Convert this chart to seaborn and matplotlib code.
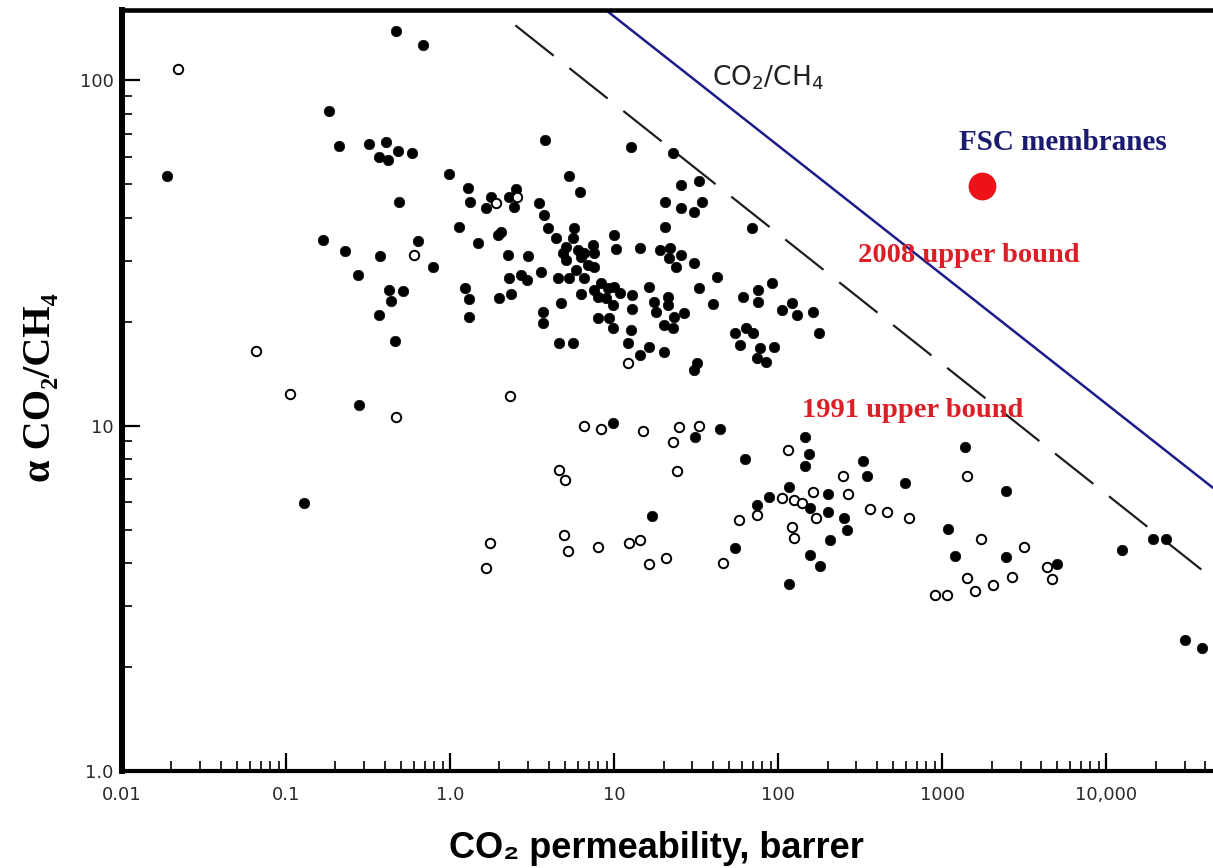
import numpy as np
import pandas as pd
import matplotlib
matplotlib.use("Agg")
import matplotlib.pyplot as plt
import seaborn as sns
from matplotlib.ticker import LogLocator, NullFormatter, FixedLocator, FixedFormatter

# ---------------- data ----------------
filled_P = [0.467, 0.681, 0.0188, 0.182, 0.210, 0.319, 0.405, 0.367, 0.417, 0.480,
            0.583, 0.486, 0.98, 1.28, 1.33, 1.13, 1.47, 0.167, 0.228, 0.372,
            0.635, 0.783, 0.274, 0.423, 0.514, 0.435, 0.367, 1.24, 1.30, 1.30,
            0.460, 0.277, 0.128, 3.77, 12.6, 22.7, 5.27, 6.15, 1.77, 1.65,
            2.28, 2.51, 2.44, 3.47, 3.72, 1.95, 2.03, 3.93, 5.66, 4.40,
            5.58, 9.91, 10.2, 14.3, 18.9, 22.0, 21.7, 25.7, 23.7, 30.5,
            20.3, 20.3, 2.24, 2.97, 5.06, 4.85, 5.98, 6.51, 7.38, 7.50,
            5.06, 6.24, 6.89, 7.50, 5.82, 3.56, 4.52, 5.27, 6.51, 2.28,
            2.69, 2.93, 1.98, 2.34, 6.24, 7.50, 8.26, 9.12, 9.91, 10.9,
            7.92, 8.87, 9.78, 12.9, 12.9, 16.4, 17.4, 18.1, 21.4, 21.4,
            26.5, 23.0, 20.0, 22.7, 4.72, 3.66, 3.66, 7.92, 9.25, 9.78,
            12.6, 4.59, 5.58, 12.1, 14.3, 16.2, 20.0, 25.7, 33.1, 25.7,
            30.5, 34.5, 69.7, 42.1, 33.1, 40.3, 61.4, 75.7, 75.7, 92.2,
            106, 122, 131, 162, 178, 54.8, 64.0, 70.6, 58.9, 77.9,
            94.8, 74.7, 84.7, 30.5, 32.2,
            9.9, 31.3, 43.9, 63.1, 117, 88.4, 74.7, 17.1, 54.8, 117,
            146, 153, 146, 330, 349, 595, 1380, 2450, 202, 157,
            202, 253, 264, 208, 157, 181, 1090, 1200, 2450, 5010,
            12500, 19300, 23100, 30200, 38300]
filled_alpha = [139, 126, 52.7, 81.3, 64.4, 65.3, 66.2, 59.8, 58.6, 62.2,
                61.5, 44.4, 53.5, 48.6, 44.4, 37.6, 33.7, 34.4, 32.0, 31.0,
                34.2, 28.8, 27.3, 24.7, 24.5, 22.9, 20.9, 25.0, 23.2, 20.6,
                17.6, 11.5, 5.97, 67.0, 64.0, 61.5, 52.7, 47.4, 45.8, 42.6,
                45.8, 48.4, 42.9, 44.1, 40.6, 35.6, 36.3, 37.3, 37.3, 34.9,
                34.9, 35.6, 32.4, 32.6, 32.2, 32.6, 30.5, 31.1, 28.8, 29.5,
                44.4, 37.6, 31.1, 31.0, 32.9, 31.6, 32.2, 31.6, 33.3, 31.6,
                30.1, 30.7, 29.1, 28.8, 28.2, 27.8, 26.7, 26.7, 26.7, 26.7,
                27.3, 26.4, 23.4, 24.0, 24.0, 24.7, 25.8, 25.0, 25.2, 24.2,
                23.6, 23.4, 22.3, 23.9, 21.7, 25.2, 22.8, 21.3, 23.6, 22.3,
                21.2, 20.6, 19.5, 19.1, 22.6, 21.3, 19.8, 20.5, 20.5, 19.1,
                18.9, 17.3, 17.3, 17.3, 16.0, 16.9, 16.3, 49.7, 51.0, 42.6,
                41.5, 44.4, 37.3, 26.9, 25.0, 22.5, 23.6, 24.7, 22.8, 25.8,
                21.6, 22.6, 20.9, 21.3, 18.5, 18.5, 19.1, 18.5, 17.1, 16.8,
                16.9, 15.7, 15.3, 14.5, 15.2,
                10.2, 9.27, 9.77, 8.00, 6.64, 6.21, 5.89, 5.47, 4.42, 3.48,
                9.27, 8.28, 7.64, 7.89, 7.14, 6.82, 8.67, 6.46, 6.34, 5.77,
                5.62, 5.40, 4.99, 4.67, 4.22, 3.92, 5.01, 4.19, 4.16, 3.97,
                4.36, 4.69, 4.69, 2.39, 2.27]

open_P = [0.0219, 0.600, 0.0655, 0.105, 0.467, 1.90, 2.55, 12.1, 2.31, 6.51,
          8.26, 14.9, 22.7, 25.0, 33.1, 24.0, 4.59, 4.99, 114, 106,
          124, 74.7, 58.0, 122, 124, 4.92, 5.20, 7.92, 12.4, 14.3,
          1.74, 1.65, 16.2, 20.8, 46.3, 249, 1420, 162, 268, 140,
          169, 364, 462, 630, 1730, 3160, 1420, 1590, 2050, 2670,
          4360, 4680, 906, 1070]
open_alpha = [108, 31.1, 16.4, 12.3, 10.6, 44.1, 45.8, 15.2, 12.2, 9.97,
              9.77, 9.64, 8.96, 9.90, 9.97, 7.38, 7.43, 6.95, 8.49, 6.17,
              6.09, 5.51, 5.33, 5.08, 4.72, 4.82, 4.33, 4.45, 4.57, 4.67,
              4.57, 3.87, 3.97, 4.13, 4.00, 7.14, 7.14, 6.42, 6.34, 5.97,
              5.40, 5.73, 5.62, 5.40, 4.69, 4.45, 3.62, 3.32, 3.45, 3.64,
              3.89, 3.59, 3.23, 3.23]

fsc_P = [1750]
fsc_alpha = [49.3]

bound1991_P = [2.5, 44700]
bound1991_alpha = [144, 3.6]
bound2008_P = [8.9, 44700]
bound2008_alpha = [159.5, 6.6]

x_ticks = [0.01, 0.1, 1, 10, 100, 1000, 10000]
x_tick_labels = ["0.01", "0.1", "1.0", "10", "100", "1000", "10,000"]
y_ticks = [1, 10, 100]
y_tick_labels = ["1.0", "10", "100"]

# ---------------- figure ----------------
sns.set_style("white")
plt.rcParams["font.family"] = ["DejaVu Sans"]

W, H = 1213, 868
fig = plt.figure(figsize=(W / 100, H / 100), dpi=100)
ax = fig.add_axes([122 / W, 1 - 771 / H, 1 - 122 / W, (771 - 10) / H])
ax.set_xscale("log")
ax.set_yscale("log")

df_f = pd.DataFrame({"P": filled_P, "alpha": filled_alpha})
df_o = pd.DataFrame({"P": open_P, "alpha": open_alpha})
df_fsc = pd.DataFrame({"P": fsc_P, "alpha": fsc_alpha})

sns.lineplot(x=bound1991_P, y=bound1991_alpha, ax=ax, color="#1e1e1e",
             linewidth=1.6, linestyle=(0, (22, 9)), zorder=2)
sns.lineplot(x=bound2008_P, y=bound2008_alpha, ax=ax, color="#1c1c8a",
             linewidth=1.8, zorder=2)

sns.scatterplot(data=df_f, x="P", y="alpha", ax=ax, color="black",
                edgecolor="black", s=58, linewidth=0.4, zorder=3)
sns.scatterplot(data=df_o, x="P", y="alpha", ax=ax, color="white",
                edgecolor="black", s=46, linewidth=1.4, zorder=4)
sns.scatterplot(data=df_fsc, x="P", y="alpha", ax=ax, color="#ec1218",
                edgecolor="#ec1218", s=400, linewidth=0, zorder=5)

ax.set_xlim(0.01, 44700)
ax.set_ylim(1.0, 159.5)

ax.xaxis.set_major_locator(FixedLocator(x_ticks))
ax.xaxis.set_major_formatter(FixedFormatter(x_tick_labels))
ax.yaxis.set_major_locator(FixedLocator(y_ticks))
ax.yaxis.set_major_formatter(FixedFormatter(y_tick_labels))
ax.xaxis.set_minor_locator(LogLocator(base=10, subs=np.arange(2, 10), numticks=40))
ax.yaxis.set_minor_locator(LogLocator(base=10, subs=np.arange(2, 10), numticks=40))
ax.xaxis.set_minor_formatter(NullFormatter())
ax.yaxis.set_minor_formatter(NullFormatter())

ax.tick_params(which="both", bottom=True, left=True, top=False, right=False)
ax.tick_params(which="major", direction="in", length=13, width=1.6,
               labelsize=13, labelcolor="#2a2a2a", color="black")
ax.tick_params(which="minor", direction="in", length=7, width=1.2, color="black")
ax.tick_params(axis="x", which="major", pad=11)
ax.tick_params(axis="y", which="major", pad=6)

ax.set_xlabel("")
ax.set_ylabel("")
ax.grid(False)
ax.spines["right"].set_visible(False)
ax.spines["left"].set_linewidth(4.3)
ax.spines["bottom"].set_linewidth(3.0)
ax.spines["top"].set_linewidth(3.3)
for s in ["left", "bottom", "top"]:
    ax.spines[s].set_color("black")

# ---------------- texts ----------------
serif = ["Liberation Serif", "DejaVu Serif"]
fig.text(712 / W, 1 - 86 / H, r"CO$_2$/CH$_4$", fontsize=19, color="#222222",
         ha="left", va="baseline", family="DejaVu Sans")
fig.text(1063 / W, 1 - 150 / H, "FSC membranes", fontsize=21, fontweight="bold",
         color="#1a1a70", ha="center", va="baseline", family=serif)
fig.text(969 / W, 1 - 262 / H, "2008 upper bound", fontsize=20.5, fontweight="bold",
         color="#dc1f26", ha="center", va="baseline", family=serif)
fig.text(913 / W, 1 - 417 / H, "1991 upper bound", fontsize=20.5, fontweight="bold",
         color="#dc1f26", ha="center", va="baseline", family=serif)

fig.text(656 / W, 1 - 858 / H, "CO\u2082 permeability, barrer", fontsize=26,
         fontweight="bold", color="black", ha="center", va="baseline",
         family=["Liberation Sans", "DejaVu Sans"])
fig.text(41 / W, 1 - 388 / H, "\u03b1 CO\u2082/CH\u2084", fontsize=29,
         fontweight="bold", color="black", ha="center", va="center",
         rotation=90, family=serif)

fig.savefig("out.png", dpi=100)
